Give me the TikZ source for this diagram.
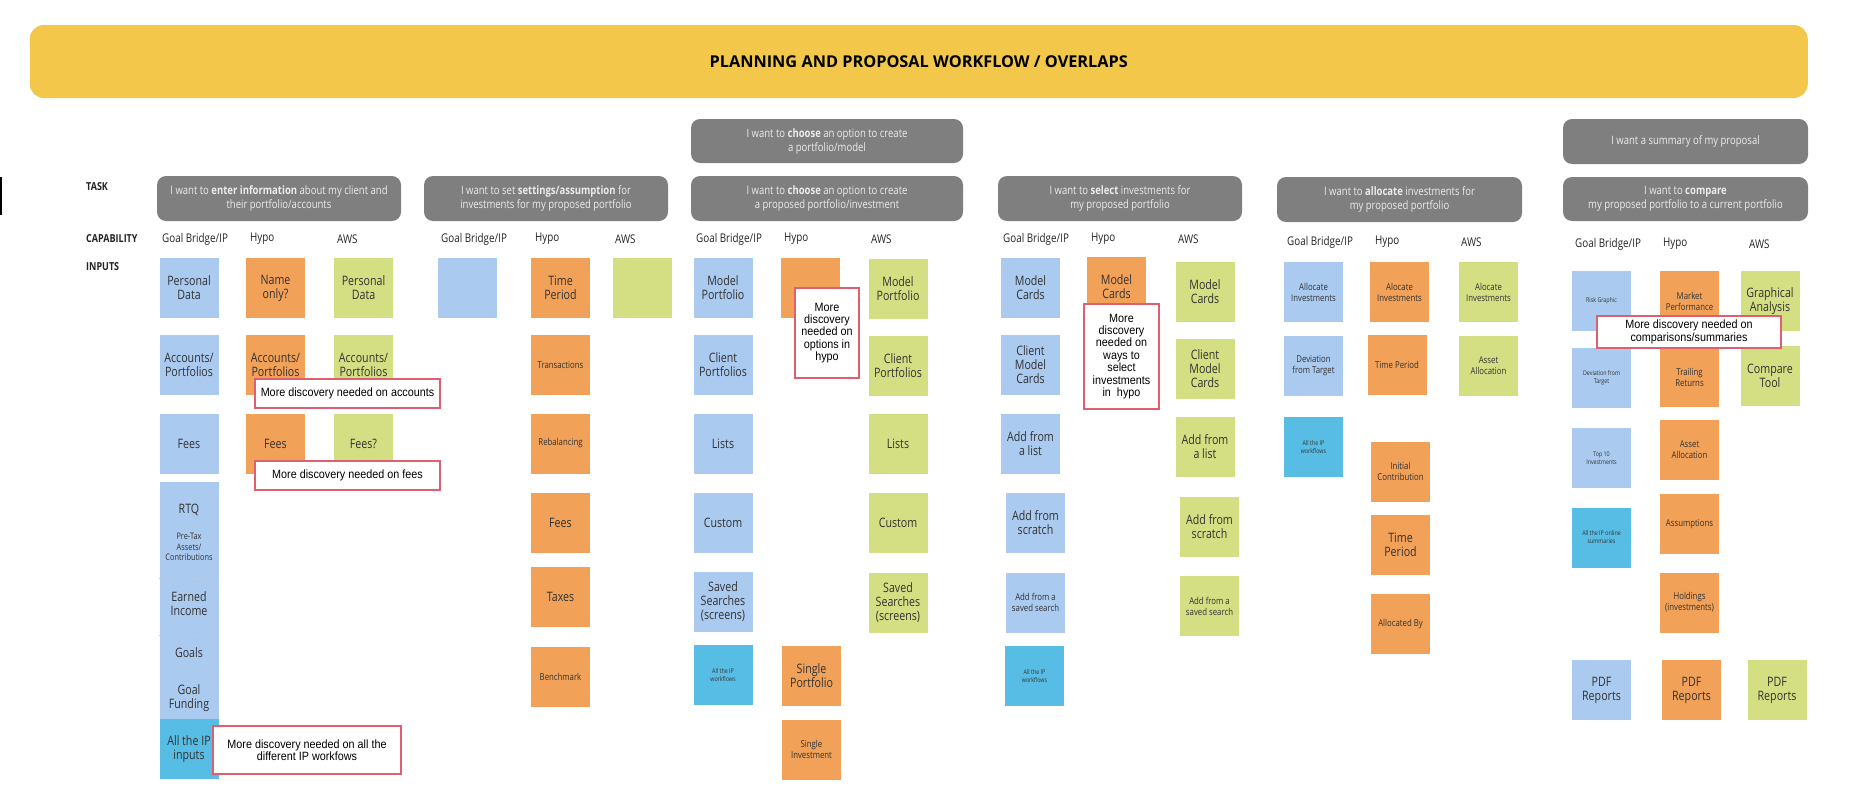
\documentclass[tikz,border=0pt]{standalone}
\usepackage{fontspec}
\setmainfont{Open Sans}[FakeStretch=0.82]
\newfontfamily\titlefont{Open Sans}
\newfontfamily\callfont{Liberation Sans}[FakeStretch=0.9]
\newcommand\myfs[2]{\fontsize{#1}{#2}\selectfont}
\definecolor{cblue}{RGB}{170,202,240}
\definecolor{cdark}{RGB}{88,189,228}
\definecolor{corange}{RGB}{242,161,88}
\definecolor{cgreen}{RGB}{212,223,131}
\definecolor{cgray}{RGB}{127,127,127}
\definecolor{cbanner}{RGB}{242,199,74}
\definecolor{cred}{RGB}{222,96,112}
\definecolor{stktext}{RGB}{50,50,50}
\definecolor{boxtext}{RGB}{236,236,236}
\definecolor{hdrtext}{RGB}{35,35,35}
\tikzset{
  stk/.style={inner sep=0pt, minimum width=59pt, minimum height=60pt, align=center, text=stktext, font=\myfs{13}{14}},
  sb/.style={stk, fill=cblue},
  so/.style={stk, fill=corange},
  sg/.style={stk, fill=cgreen},
  sd/.style={stk, fill=cdark},
  st/.style={inner sep=0pt, align=center, text=stktext, font=\myfs{13}{14}},
  sm/.style={font=\myfs{9.5}{11}},
  tn/.style={font=\myfs{6.5}{8}},
  taskbox/.style={fill=cgray, rounded corners=9pt, inner sep=0pt, minimum width=244pt, minimum height=45pt, align=center, text=boxtext, font=\myfs{11.6}{14}},
  hdr/.style={anchor=west, inner sep=0pt, text=hdrtext, font=\myfs{12}{14}},
  lab/.style={anchor=west, inner sep=0pt, text=hdrtext, font=\bfseries\myfs{11}{13}},
  callout/.style={draw=cred, line width=2pt, fill=white, inner sep=0pt, align=center, text=black, font=\callfont\myfs{12}{12.4}},
}
\begin{document}
\begin{tikzpicture}[x=1pt,y=-1pt]
\useasboundingbox (0,0) rectangle (1849,811);
\fill[black] (0,177) rectangle (1.6,215);
% banner
\node[fill=cbanner, rounded corners=14pt, minimum width=1778pt, minimum height=73pt, inner sep=0pt, font=\titlefont\bfseries\myfs{16.3}{18}, text=black] (banner) at (918.75,61.5) {PLANNING AND PROPOSAL WORKFLOW / OVERLAPS};
% left labels
\node[lab] (ltask) at (86,187) {TASK};
\node[lab] (lcap) at (86,239) {CAPABILITY};
\node[lab] (linp) at (86,267) {INPUTS};
% task boxes
\node[taskbox] (t1) at (279,198.5) {I want to \textbf{enter information} about my client and\\their portfolio/accounts};
\node[taskbox] (t2) at (546,198.5) {I want to set \textbf{settings/assumption} for\\investments for my proposed portfolio};
\node[taskbox, minimum width=272pt, minimum height=44pt] (t3a) at (827,141) {I want to \textbf{choose} an option to create\\a portfolio/model};
\node[taskbox, minimum width=272pt] (t3b) at (827,198.5) {I want to \textbf{choose} an option to create\\a proposed portfolio/investment};
\node[taskbox] (t4) at (1120,198.5) {I want to \textbf{select} investments for\\my proposed portfolio};
\node[taskbox, minimum width=245pt] (t5) at (1399.5,199.5) {I want to \textbf{allocate} investments for\\my proposed portfolio};
\node[taskbox, minimum width=245pt] (t6a) at (1685.5,141.5) {I want a summary of my proposal};
\node[taskbox, minimum width=245pt, minimum height=44pt] (t6b) at (1685.5,199) {I want to \textbf{compare}\\my proposed portfolio to a current portfolio};
% headers
\node[hdr] (h1g) at (162,239) {Goal Bridge/IP};
\node[hdr] (h1h) at (250,239) {Hypo};
\node[hdr] (h1a) at (337,239) {AWS};
\node[hdr] (h2g) at (441,239) {Goal Bridge/IP};
\node[hdr] (h2h) at (535,239) {Hypo};
\node[hdr] (h2a) at (615,239) {AWS};
\node[hdr] (h3g) at (696,239) {Goal Bridge/IP};
\node[hdr] (h3h) at (784,239) {Hypo};
\node[hdr] (h3a) at (871,239) {AWS};
\node[hdr] (h4g) at (1003,239) {Goal Bridge/IP};
\node[hdr] (h4h) at (1091,239) {Hypo};
\node[hdr] (h4a) at (1178,239) {AWS};
\node[hdr] (h5g) at (1287,242) {Goal Bridge/IP};
\node[hdr] (h5h) at (1375,242) {Hypo};
\node[hdr] (h5a) at (1461,242) {AWS};
\node[hdr] (h6g) at (1575,244) {Goal Bridge/IP};
\node[hdr] (h6h) at (1663,244) {Hypo};
\node[hdr] (h6a) at (1749,244) {AWS};
% ---- section 1
\node[sb] (s1b1) at (189,288) {Personal\\Data};
\node[sb] (s1b2) at (189,365) {Accounts/\\Portfolios};
\node[sb] (s1b3) at (189,443.5) {Fees};
\node[sb, minimum height=237pt] (s1stk) at (189,600.5) {};
\draw[cblue!85!black!60!white, line width=0.5pt, dotted] (159,578) -- (219,578);
\draw[cblue!85!black!60!white, line width=0.5pt, dotted] (159,635) -- (219,635);
\node[st] (s1rtq) at (189,510) {RTQ};
\node[st, font=\myfs{9}{10.5}] (s1pre) at (189,547) {Pre-Tax\\Assets/\\Contributions};
\node[st] (s1earn) at (189,603.5) {Earned\\Income};
\node[st] (s1goal) at (189,653) {Goals};
\node[st] (s1fund) at (189,698) {Goal\\Funding};
\node[sd] (s1ip) at (189,749) {All the IP\\inputs};
\node[so] (s1h1) at (275.5,288) {Name\\only?};
\node[so] (s1h2) at (275.5,365) {Accounts/\\Portfolios};
\node[so] (s1h3) at (275.5,443.5) {Fees};
\node[sg] (s1a1) at (363.5,288) {Personal\\Data};
\node[sg] (s1a2) at (363.5,365) {Accounts/\\Portfolios};
\node[sg] (s1a3) at (363.5,443.5) {Fees?};
\node[callout, minimum width=185pt, minimum height=29pt] (c1) at (347.5,393.5) {More discovery needed on accounts};
\node[callout, minimum width=185pt, minimum height=29pt] (c2) at (347.5,475.5) {More discovery needed on fees};
\node[callout, minimum width=188pt, minimum height=48pt] (c3) at (307,750) {More discovery needed on all the\\different IP workfows};
% ---- section 2
\node[sb] (s2b1) at (467.5,288) {};
\node[so] (s2h1) at (560.5,288) {Time\\Period};
\node[so, sm] (s2h2) at (560.5,365) {Transactions};
\node[so, sm] (s2h3) at (560.5,443.5) {Rebalancing};
\node[so] (s2h4) at (560.5,523) {Fees};
\node[so] (s2h5) at (560.5,597) {Taxes};
\node[so, sm] (s2h6) at (560.5,676.5) {Benchmark};
\node[sg] (s2a1) at (642.5,288) {};
% ---- section 3
\node[sb] (s3b1) at (723,288) {Model\\Portfolio};
\node[sb] (s3b2) at (723,365) {Client\\Portfolios};
\node[sb] (s3b3) at (723,443.5) {Lists};
\node[sb] (s3b4) at (723,522.5) {Custom};
\node[sb] (s3b5) at (723,601.5) {Saved\\Searches\\(screens)};
\node[sd, tn] (s3b6) at (723,675) {All the IP\\workflows};
\node[so] (s3h1) at (810.5,288) {};
\node[so] (s3h2) at (811.5,676) {Single\\Portfolio};
\node[so, sm] (s3h3) at (811.5,749.5) {Single\\Investment};
\node[sg] (s3a1) at (898,289) {Model\\Portfolio};
\node[sg] (s3a2) at (898,366) {Client\\Portfolios};
\node[sg] (s3a3) at (898,444) {Lists};
\node[sg] (s3a4) at (898,523) {Custom};
\node[sg] (s3a5) at (898,602.5) {Saved\\Searches\\(screens)};
\node[callout, minimum width=64pt, minimum height=90pt] (c4) at (827,333) {More\\discovery\\needed on\\options in\\hypo};
% ---- section 4
\node[sb] (s4b1) at (1030.5,288) {Model\\Cards};
\node[sb] (s4b2) at (1030.5,365) {Client\\Model\\Cards};
\node[sb] (s4b3) at (1030.5,443.5) {Add from\\a list};
\node[sb] (s4b4) at (1035.5,523) {Add from\\scratch};
\node[sb, sm] (s4b5) at (1035.5,602.5) {Add from a\\saved search};
\node[sd, tn] (s4b6) at (1034.5,676) {All the IP\\workflows};
\node[so] (s4h1) at (1116.5,287) {Model\\Cards};
\node[sg] (s4a1) at (1205,292) {Model\\Cards};
\node[sg] (s4a2) at (1205,369) {Client\\Model\\Cards};
\node[sg] (s4a3) at (1205,447) {Add from\\a list};
\node[sg] (s4a4) at (1209.5,527) {Add from\\scratch};
\node[sg, sm] (s4a5) at (1209.5,606) {Add from a\\saved search};
\node[callout, minimum width=75pt, minimum height=105pt] (c5) at (1121.5,356.5) {More\\discovery\\needed on\\ways to\\select\\investments\\in~~hypo};
% ---- section 5
\node[sb, sm] (s5b1) at (1313.5,292) {Allocate\\Investments};
\node[sb, sm] (s5b2) at (1313.5,366) {Deviation\\from Target};
\node[sd, tn] (s5b3) at (1313.5,447) {All the IP\\workflows};
\node[so, sm] (s5h1) at (1399.5,292) {Alocate\\Investments};
\node[so, sm] (s5h2) at (1397,364.5) {Time Period};
\node[so, sm] (s5h3) at (1400.5,471.5) {Initial\\Contribution};
\node[so] (s5h4) at (1400.5,544.5) {Time\\Period};
\node[so, sm] (s5h5) at (1400.5,624) {Allocated By};
\node[sg, sm] (s5a1) at (1488.5,292) {Alocate\\Investments};
\node[sg, sm] (s5a2) at (1488.5,366) {Asset\\Allocation};
% ---- section 6
\node[sb, tn] (s6b1) at (1601.5,301) {Risk Graphic};
\node[sb, tn] (s6b2) at (1601.5,378) {Deviation from\\Target};
\node[sb, tn] (s6b3) at (1601.5,458) {Top 10\\Investments};
\node[sd, tn] (s6b4) at (1601.5,537.5) {All the IP online\\summaries};
\node[sb] (s6b5) at (1601.5,690) {PDF\\Reports};
\node[so, sm] (s6h1) at (1689.5,301) {Market\\Performance};
\node[so, sm] (s6h2) at (1689.5,377) {Trailing\\Returns};
\node[so, sm] (s6h3) at (1689.5,449.5) {Asset\\Allocation};
\node[so, sm] (s6h4) at (1689.5,524) {Assumptions};
\node[so, sm] (s6h5) at (1689.5,602.5) {Holdings\\(investments)};
\node[so] (s6h6) at (1691.5,690) {PDF\\Reports};
\node[sg] (s6a1) at (1770,301) {Graphical\\Analysis};
\node[sg] (s6a2) at (1770,375.5) {Compare\\Tool};
\node[sg] (s6a3) at (1777,690) {PDF\\Reports};
\node[callout, minimum width=184pt, minimum height=32pt] (c6) at (1689,332) {More discovery needed on\\comparisons/summaries};
\end{tikzpicture}
\end{document}
